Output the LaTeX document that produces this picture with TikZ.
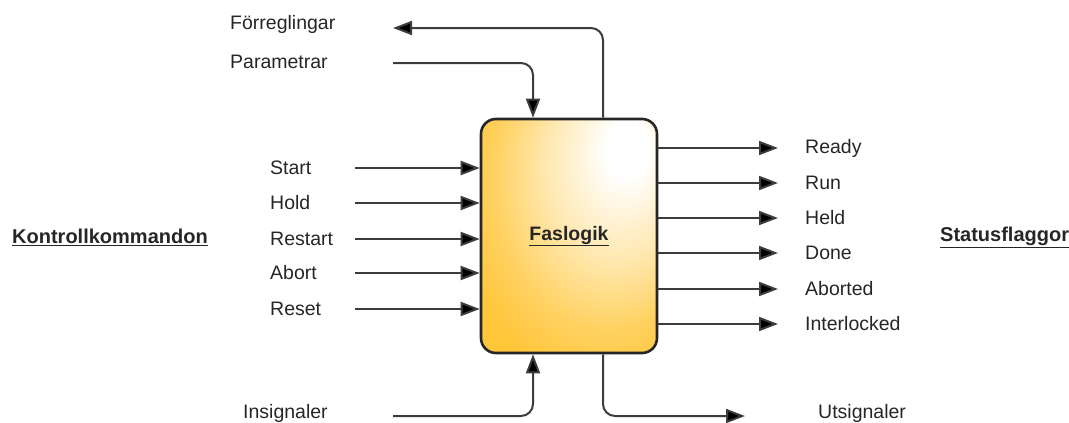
\documentclass[tikz,border=0pt]{standalone}
\usepackage{fontspec}
\setmainfont{Liberation Sans}
\usetikzlibrary{arrows.meta}
\definecolor{boxorange}{RGB}{255,198,58}
\definecolor{wire}{RGB}{60,60,60}
% warm glow that fades from the upper right corner of the logic block
% (the block's bounding box covers the central 50bp square of the shading)
\pgfdeclareradialshading{cornerglow}{\pgfpoint{18bp}{20bp}}{%
  color(0bp)=(white); color(6bp)=(white); color(20bp)=(boxorange!40!white);
  color(32bp)=(boxorange!80!white); color(41bp)=(boxorange); color(80bp)=(boxorange)}
\tikzset{
  lab/.style={anchor=west, inner sep=0pt, font=\fontsize{19.5}{22}\selectfont, text=black!85},
  title/.style={anchor=west, inner sep=0pt, font=\fontsize{20}{22}\selectfont\bfseries, text=black!85},
  arr/.style={draw=wire, line width=2pt, -{Triangle[length=19pt,width=14pt,fill=black]}},
  logicbox/.style={draw=black!85, line width=2.6pt, rounded corners=15pt, shading=cornerglow,
    minimum width=176pt, minimum height=234pt, inner sep=0pt,
    font=\fontsize{19.5}{22}\selectfont\bfseries, text=black!85}
}
\begin{document}
\begin{tikzpicture}[x=1pt,y=1pt]
\useasboundingbox (0,0) rectangle (1069,-423);

% central phase logic block
\node[logicbox] (F) at (569,-236) {\underline{Faslogik}};

% group headings
\node[title] (kk) at (12,-237) {\underline{Kontrollkommandon}};
\node[title] (sf) at (940,-237) {\underline{Statusflaggor}};

% control commands entering from the left
\foreach \name/\txt/\y in {start/Start/168, hold/Hold/203, restart/Restart/239, abort/Abort/273, reset/Reset/309}{
  \node[lab] (\name) at (270,-\y) {\txt};
  \coordinate (\name-s) at (355,-\y);
  \draw[arr] (\name-s) -- (\name-s -| F.west);
}

% status flags leaving to the right
\foreach \name/\txt/\y in {ready/Ready/148, run/Run/183, held/Held/218, done/Done/253, aborted/Aborted/289, interlocked/Interlocked/324}{
  \coordinate (\name-e) at (778,-\y);
  \draw[arr] (F.east |- \name-e) -- (\name-e);
  \node[lab] (\name) at (805,-\y) {\txt};
}

% interlocks out of the top, parameters into the top
\node[lab] (forr) at (230,-24) {Förreglingar};
\node[lab] (par) at (230,-62) {Parametrar};
\coordinate (outx) at (603,-28);
\coordinate (inx) at (533,-63);
\coordinate (forr-e) at (393,-28);
\coordinate (par-s) at (393,-63);
\draw[arr, rounded corners=12pt] (F.north -| outx) |- (forr-e);
\draw[arr, rounded corners=12pt] (par-s) -| (F.north -| inx);

% input and output signals at the bottom
\node[lab] (ins) at (243,-413) {Insignaler};
\node[lab] (uts) at (818,-413) {Utsignaler};
\coordinate (ins-s) at (393,-416);
\coordinate (uts-e) at (745,-416);
\draw[arr, rounded corners=12pt] (ins-s) -| (F.south -| inx);
\draw[arr, rounded corners=12pt] (F.south -| outx) |- (uts-e);
\end{tikzpicture}
\end{document}
